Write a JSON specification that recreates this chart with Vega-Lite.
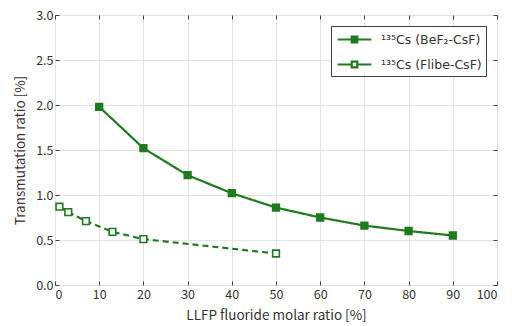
{
  "$schema": "https://vega.github.io/schema/vega-lite/v6.json",
  "width": 442,
  "height": 270,
  "autosize": "none",
  "padding": {"left": 55, "top": 15, "right": 15, "bottom": 41},
  "background": "white",
  "config": {
    "font": "Noto Sans CJK JP",
    "view": {"stroke": "#404040", "strokeWidth": 1},
    "axis": {"labelFont": "Noto Sans CJK JP", "titleFont": "Noto Sans CJK JP", "labelColor": "#333333", "titleColor": "#333333", "labelFontSize": 12.5, "titleFontSize": 13.5, "titleFontWeight": "normal", "gridColor": "#e3e3e3", "domain": false, "tickColor": "#404040", "tickSize": -4}
  },
  "data": {"values": [
    {"ratio": 10, "trans": 1.98, "series": "¹³⁵Cs (BeF₂-CsF)"},
    {"ratio": 20, "trans": 1.52, "series": "¹³⁵Cs (BeF₂-CsF)"},
    {"ratio": 30, "trans": 1.22, "series": "¹³⁵Cs (BeF₂-CsF)"},
    {"ratio": 40, "trans": 1.02, "series": "¹³⁵Cs (BeF₂-CsF)"},
    {"ratio": 50, "trans": 0.86, "series": "¹³⁵Cs (BeF₂-CsF)"},
    {"ratio": 60, "trans": 0.75, "series": "¹³⁵Cs (BeF₂-CsF)"},
    {"ratio": 70, "trans": 0.66, "series": "¹³⁵Cs (BeF₂-CsF)"},
    {"ratio": 80, "trans": 0.60, "series": "¹³⁵Cs (BeF₂-CsF)"},
    {"ratio": 90, "trans": 0.55, "series": "¹³⁵Cs (BeF₂-CsF)"},
    {"ratio": 1, "trans": 0.87, "series": "¹³⁵Cs (Flibe-CsF)"},
    {"ratio": 3, "trans": 0.81, "series": "¹³⁵Cs (Flibe-CsF)"},
    {"ratio": 7, "trans": 0.71, "series": "¹³⁵Cs (Flibe-CsF)"},
    {"ratio": 13, "trans": 0.59, "series": "¹³⁵Cs (Flibe-CsF)"},
    {"ratio": 20, "trans": 0.51, "series": "¹³⁵Cs (Flibe-CsF)"},
    {"ratio": 50, "trans": 0.35, "series": "¹³⁵Cs (Flibe-CsF)"}
  ]},
  "layer": [
    {
      "mark": {"type": "line", "strokeWidth": 2.2},
      "encoding": {
        "x": {"field": "ratio", "type": "quantitative", "scale": {"domain": [0, 100], "nice": false}, "axis": {"title": "LLFP fluoride molar ratio [%]", "values": [0,10,20,30,40,50,60,70,80,90,100], "titlePadding": 8, "labelPadding": 7}},
        "y": {"field": "trans", "type": "quantitative", "scale": {"domain": [0, 3], "nice": false}, "axis": {"title": "Transmutation ratio [%]", "format": ".1f", "values": [0,0.5,1,1.5,2,2.5,3], "titlePadding": 8, "labelPadding": 6}},
        "color": {"field": "series", "type": "nominal", "scale": {"range": ["#1e7b1e", "#1e7b1e"]}, "legend": {
          "title": null, "orient": "top-right", "offset": 11, "fillColor": "white", "strokeColor": "#404040", "padding": 4,
          "labelFont": "DejaVu Sans", "labelFontSize": 12.5, "labelColor": "#333333", "rowPadding": 8,
          "symbolType": "M-2.1,0H-0.35M0.35,0H2.1M-0.35,-0.35H0.35V0.35H-0.35Z", "symbolSize": 256, "symbolStrokeWidth": 2.2,
          "symbolOffset": 10, "labelOffset": 17,
          "encode": {"symbols": {"update": {"fill": {"signal": "indexof(datum.value, 'BeF') >= 0 ? '#1e7b1e' : 'white'"}}}}
        }},
        "strokeDash": {"field": "series", "type": "nominal", "scale": {"range": [[1, 0], [6, 4]]}, "legend": null}
      }
    },
    {
      "mark": {"type": "point", "shape": "square", "size": 45, "strokeWidth": 1.6, "opacity": 1},
      "encoding": {
        "x": {"field": "ratio", "type": "quantitative", "axis": null},
        "y": {"field": "trans", "type": "quantitative", "axis": null},
        "color": {"field": "series", "type": "nominal", "legend": null},
        "fill": {"field": "series", "type": "nominal", "scale": {"range": ["#1e7b1e", "white"]}, "legend": null}
      }
    },
    {
      "mark": {"type": "point", "opacity": 0},
      "encoding": {
        "x": {"field": "ratio", "type": "quantitative", "axis": {"orient": "top", "labels": false, "title": null, "grid": false, "values": [0,10,20,30,40,50,60,70,80,90,100]}},
        "y": {"field": "trans", "type": "quantitative", "axis": {"orient": "right", "labels": false, "title": null, "grid": false, "values": [0,0.5,1,1.5,2,2.5,3]}}
      }
    }
  ],
  "resolve": {"axis": {"x": "independent", "y": "independent"}}
}
